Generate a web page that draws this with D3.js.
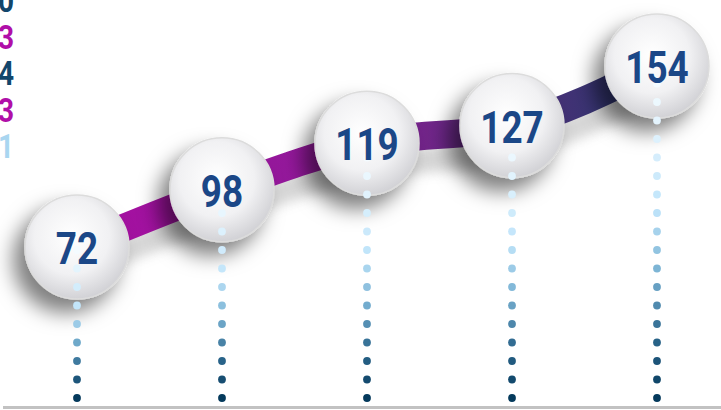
<!DOCTYPE html>
<html>
<head>
<meta charset="utf-8">
<script src="https://cdn.jsdelivr.net/npm/d3@7"></script>
<style>
  body { margin: 0; background: #fff; }
  svg { display: block; }
</style>
</head>
<body>
<div class="chart"></div>
<script>
// data
var steps = ["S1", "S2", "S3", "S4", "S5"];
var values = [72, 98, 119, 127, 154];
// labels cut off at the left edge of the picture
var sideLabels = ["2020", "2023", "2014", "2013", "2011"];
var sideColors = ["#12466b", "#b00fa8", "#12466b", "#b00fa8", "#a9d6f0"];

var svgWidth = 721;
var svgHeight = 410;

var svg = d3.select(".chart")
  .append("svg")
  .attr("width", svgWidth)
  .attr("height", svgHeight);

var defs = svg.append("defs");

// scales
var xScale = d3.scalePoint()
  .domain(steps)
  .range([77, 657]);

var yScale = d3.scaleLinear()
  .domain([0, 154])
  .range([406, 66]);

var pts = steps.map((s, i) => ({ step: s, value: values[i], x: xScale(s), y: yScale(values[i]) }));

// gradients & filters
var bandGrad = defs.append("linearGradient")
  .attr("id", "bandGrad")
  .attr("gradientUnits", "userSpaceOnUse")
  .attr("x1", xScale(steps[0])).attr("x2", xScale(steps[4]))
  .attr("y1", 0).attr("y2", 0);
[[0, "#a80ea2"], [0.45, "#8f1a99"], [0.72, "#5a2c7d"], [1, "#22386a"]].forEach(s => {
  bandGrad.append("stop").attr("offset", s[0]).attr("stop-color", s[1]);
});

var ballGrad = defs.append("radialGradient")
  .attr("id", "ballGrad")
  .attr("cx", "45%").attr("cy", "40%").attr("r", "60%");
ballGrad.append("stop").attr("offset", 0).attr("stop-color", "#ffffff");
ballGrad.append("stop").attr("offset", 0.6).attr("stop-color", "#f1f1f3");
ballGrad.append("stop").attr("offset", 1).attr("stop-color", "#d2d2d6");

var blur = defs.append("filter").attr("id", "blur")
  .attr("x", "-20%").attr("y", "-50%").attr("width", "140%").attr("height", "200%");
blur.append("feGaussianBlur").attr("stdDeviation", 6);

var ballShadow = defs.append("filter").attr("id", "ballShadow")
  .attr("x", "-60%").attr("y", "-60%").attr("width", "220%").attr("height", "220%");
ballShadow.append("feDropShadow")
  .attr("dx", -11).attr("dy", 13).attr("stdDeviation", 10)
  .attr("flood-color", "#000").attr("flood-opacity", 0.5);

var numFont = "Roboto, 'DejaVu Sans Condensed', sans-serif";

// left cut-off labels
svg.selectAll(".sideLabel")
  .data(sideLabels)
  .enter()
  .append("text")
  .attr("class", "sideLabel")
  .attr("transform", (d, i) => `translate(14, ${12 + i * 36.5}) scale(0.85, 1)`)
  .attr("text-anchor", "end")
  .attr("fill", (d, i) => sideColors[i])
  .attr("font-family", numFont)
  .attr("font-weight", "bold")
  .attr("font-size", 33)
  .text(d => d);

// band shadow + band
var line = d3.line()
  .x(d => d.x)
  .y(d => d.y)
  .curve(d3.curveMonotoneX);

svg.append("path")
  .datum(pts)
  .attr("d", line)
  .attr("transform", "translate(-4, 24)")
  .attr("fill", "none")
  .attr("stroke", "#8c8c8c")
  .attr("stroke-width", 26)
  .attr("opacity", 0.35)
  .attr("filter", "url(#blur)");

svg.append("path")
  .datum(pts)
  .attr("d", line)
  .attr("fill", "none")
  .attr("stroke", "url(#bandGrad)")
  .attr("stroke-width", 28);

// baseline
svg.append("line")
  .attr("x1", 3).attr("x2", svgWidth)
  .attr("y1", yScale(0) + 1.5).attr("y2", yScale(0) + 1.5)
  .attr("stroke", "#c2c2c2")
  .attr("stroke-width", 3);

// balls
svg.selectAll(".ball")
  .data(pts)
  .enter()
  .append("circle")
  .attr("class", "ball")
  .attr("cx", d => d.x)
  .attr("cy", d => d.y)
  .attr("r", 52)
  .attr("fill", "url(#ballGrad)")
  .attr("stroke", "#dcdcdc")
  .attr("stroke-width", 1.5)
  .attr("filter", "url(#ballShadow)");

// dotted drop lines
var dotColor = d3.scaleLinear()
  .domain([0, 0.4, 0.6, 0.8, 1])
  .range(["#f4fbff", "#bfe4fa", "#79b2d3", "#2c678d", "#053a5c"]);

pts.forEach(p => {
  var dots = [];
  for (var y = yScale(0) - 8; y >= p.y + 2; y -= 18.5) dots.push(y);
  var n = dots.length;
  svg.selectAll(null)
    .data(dots)
    .enter()
    .append("circle")
    .attr("cx", p.x)
    .attr("cy", d => d)
    .attr("r", 3.9)
    .attr("fill", (d, i) => dotColor(1 - i / (n - 1)));
});

// values
svg.selectAll(".val")
  .data(pts)
  .enter()
  .append("text")
  .attr("class", "val")
  .attr("transform", d => `translate(${d.x}, ${d.y + 17}) scale(0.82, 1)`)
  .attr("text-anchor", "middle")
  .attr("fill", "#1b4787")
  .attr("font-family", numFont)
  .attr("font-weight", "bold")
  .attr("font-size", 45)
  .text(d => d.value);
</script>
</body>
</html>
